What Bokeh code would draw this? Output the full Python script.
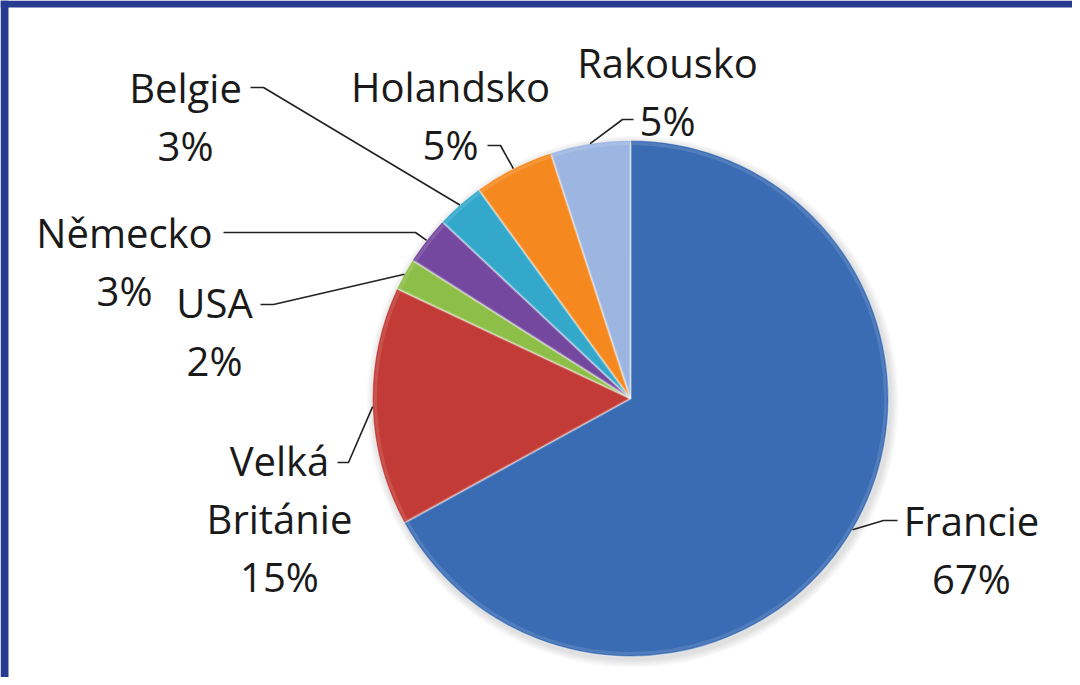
import math
from bokeh.plotting import figure
from bokeh.models import Range1d, BoxAnnotation
from bokeh.core.properties import value
from bokeh.embed import file_html
from bokeh.resources import INLINE

# ---- data ----
countries = ["Francie", "Velká Británie", "USA", "Německo", "Belgie", "Holandsko", "Rakousko"]
shares = [67, 15, 2, 3, 3, 5, 5]
pct_labels = ["67%", "15%", "2%", "3%", "3%", "5%", "5%"]
name_lines = [["Francie"], ["Velká", "Británie"], ["USA"], ["Německo"], ["Belgie"], ["Holandsko"], ["Rakousko"]]
colors = ["#3A6CB4", "#C23B36", "#8DBE48", "#7548A0", "#33A8CB", "#F5891F", "#9CB6E1"]

# ---- layout (page pixel coordinates, y downward) ----
W, H = 1072, 677
CX, CY, R = 630, 398, 258
# label centre x and first-line baseline y, line step
label_x = [971, 279, 214, 124, 185, 450, 667]
label_y = [520, 460, 302, 232, 87, 86, 62]
line_step = 58
# leader elbow: (start x, elbow x, y)
lead_start = [897, 337, 260, 223, 250, 487, 633]
lead_elbow = [883, 348, 273, 415, 263, 500, 622]
lead_y = [520, 462, 304, 232, 87, 145, 119]

def Y(y):
    return H - y

p = figure(width=W, height=H, x_range=Range1d(0, W), y_range=Range1d(0, H),
           output_backend="svg", toolbar_location=None, min_border=0)
p.axis.visible = False
p.grid.visible = False
p.outline_line_color = None
p.background_fill_color = "white"
p.border_fill_color = "white"

# frame border strips
p.add_layout(BoxAnnotation(left=0, right=8, bottom=0, top=H, fill_color="#283A8F", fill_alpha=1, line_color=None))
p.add_layout(BoxAnnotation(left=0, right=W, bottom=Y(7), top=H, fill_color="#283A8F", fill_alpha=1, line_color=None))

# soft shadow
for i in range(8, 0, -1):
    p.circle(x=CX + 2, y=Y(CY) - 3, radius=R + i, fill_color="#888888", fill_alpha=0.035, line_color=None)

total = sum(shares)
cum = 0
starts, ends, mids = [], [], []
for s in shares:
    a0 = math.pi / 2 - 2 * math.pi * cum / total
    cum += s
    a1 = math.pi / 2 - 2 * math.pi * cum / total
    starts.append(a0)
    ends.append(a1)
    mids.append((a0 + a1) / 2)

p.wedge(x=CX, y=Y(CY), radius=R, start_angle=starts, end_angle=ends, direction="clock",
        fill_color=colors, line_color="#FFFFFF", line_alpha=0.35, line_width=1.2)

# subtle inner highlight rim
p.wedge(x=CX, y=Y(CY), radius=R - 3, start_angle=starts, end_angle=ends, direction="clock",
        fill_color=None, line_color="#FFFFFF", line_alpha=0.12, line_width=3)

# leader lines
xs, ys = [], []
for i, m in enumerate(mids):
    ex = CX + R * math.cos(m)
    ey = Y(CY) + R * math.sin(m)
    xs.append([lead_start[i], lead_elbow[i], ex])
    ys.append([Y(lead_y[i]), Y(lead_y[i]), ey])
p.multi_line(xs=xs, ys=ys, line_color="#222222", line_width=1.6)

# labels
tx, ty, tt = [], [], []
for i in range(len(countries)):
    lines = name_lines[i] + [pct_labels[i]]
    for k, ln in enumerate(lines):
        tx.append(label_x[i])
        ty.append(Y(label_y[i] + k * line_step))
        tt.append(ln)
p.text(x=tx, y=ty, text=tt, text_align="center", text_baseline="alphabetic",
       text_font=value("Open Sans"), text_font_size="40px", text_color="#1A1A1A")

open("out.html", "w").write(file_html(p, INLINE))
